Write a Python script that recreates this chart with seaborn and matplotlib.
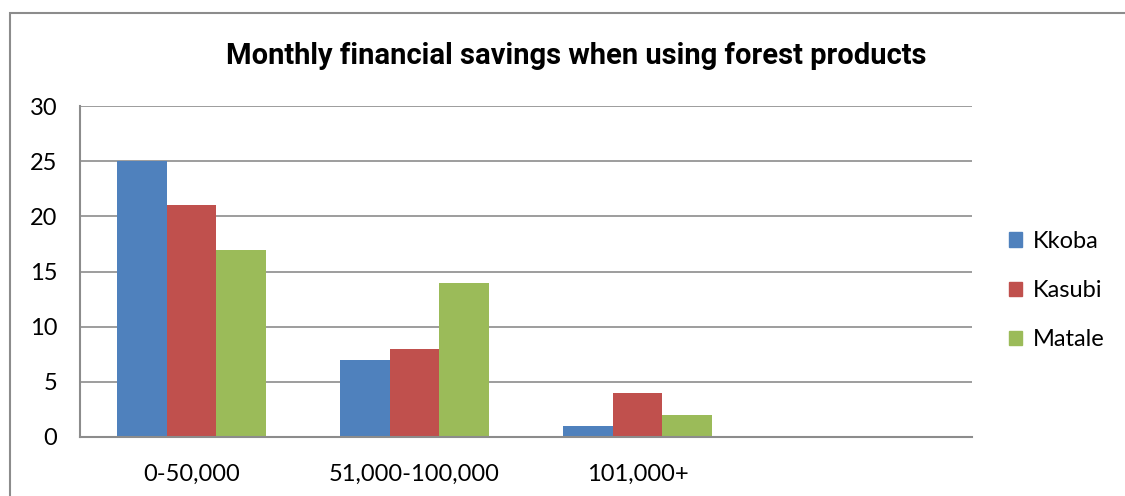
import matplotlib
matplotlib.use("Agg")
import matplotlib.pyplot as plt
from matplotlib.patches import Rectangle
import seaborn as sns
import pandas as pd

categories = ["0-50,000", "51,000-100,000", "101,000+"]
series_names = ["Kkoba", "Kasubi", "Matale"]
kkoba = [25, 7, 1]
kasubi = [21, 8, 4]
matale = [17, 14, 2]
y_ticks = [0, 5, 10, 15, 20, 25, 30]
colors = ["#4F81BD", "#C0504D", "#9BBB59"]

rows = []
for name, vals in zip(series_names, [kkoba, kasubi, matale]):
    for cat, v in zip(categories, vals):
        rows.append({"range": cat, "site": name, "value": v})
df = pd.DataFrame(rows)

sns.set_style("white")
plt.rcParams["font.family"] = ["Lato", "DejaVu Sans"]
plt.rcParams["text.color"] = "black"
plt.rcParams["xtick.color"] = "black"
plt.rcParams["ytick.color"] = "black"

fig = plt.figure(figsize=(11.25, 4.96), dpi=100)
ax = fig.add_axes([0.0711, 0.119, 0.793, 0.667])

sns.barplot(data=df, x="range", y="value", hue="site", order=categories,
            hue_order=series_names, palette=colors, width=0.67,
            linewidth=0, saturation=1, ax=ax, legend=False)

ax.set_xlim(-0.5, 3.5)
ax.set_ylim(0, 30)
ax.set_yticks(y_ticks)
ax.set_yticklabels([str(t) for t in y_ticks], fontsize=17)
ax.tick_params(axis="x", labelsize=17, length=0, pad=19, labelcolor="black")
ax.tick_params(axis="y", length=0, pad=16.5, labelcolor="black")
ax.set_xlabel("")
ax.set_ylabel("")
ax.yaxis.grid(True, color="#8C8C8C", linewidth=1.2)
ax.set_axisbelow(True)
for s in ["top", "right"]:
    ax.spines[s].set_visible(False)
for s in ["left", "bottom"]:
    ax.spines[s].set_color("#8C8C8C")
    ax.spines[s].set_linewidth(1.5)

fig.text(0.512, 0.887, "Monthly financial savings when using forest products",
         ha="center", va="center", fontsize=21, fontweight="bold",
         color="black", family=["Roboto", "DejaVu Sans"])

handles = [Rectangle((0, 0), 1, 1, color=c) for c in colors]
fig.legend(handles, series_names, loc="center left",
           bbox_to_anchor=(0.897, 0.414), frameon=False, fontsize=17,
           handlelength=0.55, handleheight=0.55, handletextpad=0.45,
           labelspacing=1.2, borderpad=0, borderaxespad=0,
           labelcolor="black")

# outer chart border
fig.patches.append(Rectangle((10 / 1125, -0.1), 1.2, 1 - 13 / 496 + 0.1,
                             transform=fig.transFigure, fill=False,
                             edgecolor="#8C8C8C", linewidth=1.5))

fig.savefig("out.png", dpi=100)
